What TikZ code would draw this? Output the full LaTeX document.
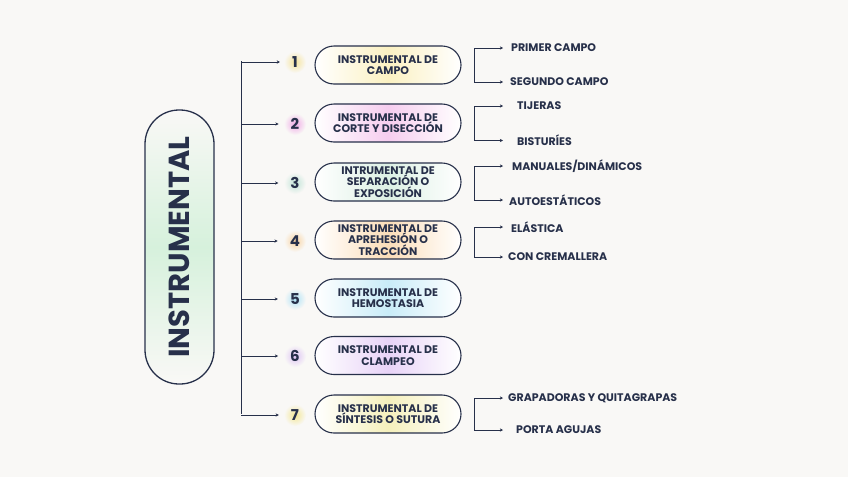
\documentclass[tikz,border=0pt]{standalone}
\usepackage{fontspec}
\setmainfont{Poppins}
\usetikzlibrary{arrows.meta}
\definecolor{bg}{HTML}{F9F8F6}
\definecolor{ink}{HTML}{27304A}
\definecolor{cA}{HTML}{FBF1C2}
\definecolor{cB}{HTML}{F6CDEF}
\definecolor{cC}{HTML}{DCF0E4}
\definecolor{cD}{HTML}{FBDDB8}
\definecolor{cE}{HTML}{C9ECF8}
\definecolor{cF}{HTML}{E8D3F7}
\definecolor{cG}{HTML}{F5F0BC}
\definecolor{cM}{HTML}{D6F1DC}
\definecolor{gA}{HTML}{F5E39A}
\definecolor{gB}{HTML}{EFA9E6}
\definecolor{gC}{HTML}{BFE3D6}
\definecolor{gD}{HTML}{F9D29E}
\definecolor{gE}{HTML}{AEE2F6}
\definecolor{gF}{HTML}{DCC2F4}
\definecolor{gG}{HTML}{F3E692}
\tikzset{
  arr/.style={draw=ink, line width=0.8pt, -{Stealth[length=3.2pt,width=3.2pt]}},
  ln/.style={draw=ink, line width=0.8pt},
  catbox/.style={draw=ink, line width=1.1pt, minimum width=146pt, minimum height=38pt,
    rounded corners=19pt, align=center, text=ink, font=\fontsize{11}{11.5}\selectfont\bfseries,
    inner sep=1pt},
  numtxt/.style={text=ink, font=\fontsize{15}{15}\selectfont\bfseries, inner sep=0pt},
  subtxt/.style={text=ink, font=\fontsize{11}{12}\selectfont\bfseries, inner sep=0pt, anchor=west},
}
\begin{document}
\begin{tikzpicture}[x=1pt,y=-1pt]
\fill[bg] (0,0) rectangle (848,477);
\useasboundingbox (0,0) rectangle (848,477);

% main box
\node[draw=ink, line width=1.3pt, rotate=90, minimum width=274pt, minimum height=69pt,
  rounded corners=34pt, left color=bg, right color=bg, middle color=cM, shading angle=0,
  text=ink, font=\fontsize{29}{29}\selectfont\bfseries, inner sep=0pt]
  (main) at (179.5,247) {INSTRUMENTAL};

% spine
\coordinate (top) at (241,61);
\coordinate (bot) at (241,414);
\draw[ln] (top) -- (bot);

% numbers with glows
\foreach \i/\y/\g in {1/62/gA,2/124/gB,3/183/gC,4/241/gD,5/299/gE,6/356/gF,7/415/gG}{
  \shade[inner color=\g, outer color=bg] (295,\y) circle (11pt);
}
\node[numtxt] (n1) at (295,62) {1};
\node[numtxt] (n2) at (295,124) {2};
\node[numtxt] (n3) at (295,183) {3};
\node[numtxt] (n4) at (295,241) {4};
\node[numtxt] (n5) at (295,299) {5};
\node[numtxt] (n6) at (295,356) {6};
\node[numtxt] (n7) at (295,415) {7};

\foreach \i in {1,...,7}{
  \draw[arr, shorten >=12pt] (n\i -| top) -- (n\i.west);
}

% category boxes
\node[catbox, left color=white, right color=white, middle color=cA] (b1) at (388,65) {INSTRUMENTAL DE\\CAMPO};
\node[catbox, left color=white, right color=white, middle color=cB] (b2) at (388,123) {INSTRUMENTAL DE\\CORTE Y DISECCIÓN};
\node[catbox, left color=white, right color=white, middle color=cC] (b3) at (388,182) {INTRUMENTAL DE\\SEPARACIÓN O\\EXPOSICIÓN};
\node[catbox, left color=white, right color=white, middle color=cD] (b4) at (388,240) {INSTRUMENTAL DE\\APREHESIÓN O\\TRACCIÓN};
\node[catbox, left color=white, right color=white, middle color=cE] (b5) at (388,298) {INSTRUMENTAL DE\\HEMOSTASIA};
\node[catbox, left color=white, right color=white, middle color=cF] (b6) at (388,355.5) {INSTRUMENTAL DE\\CLAMPEO};
\node[catbox, left color=white, right color=white, middle color=cG] (b7) at (388,414) {INSTRUMENTAL DE\\SÍNTESIS O SUTURA};

% sub items
\node[subtxt] (s1a) at (511,48) {PRIMER CAMPO};
\node[subtxt] (s1b) at (510,82) {SEGUNDO CAMPO};
\node[subtxt] (s2a) at (517,106) {TIJERAS};
\node[subtxt] (s2b) at (517,140.5) {BISTURÍES};
\node[subtxt] (s3a) at (512,166) {MANUALES/DINÁMICOS};
\node[subtxt] (s3b) at (509,200) {AUTOESTÁTICOS};
\node[subtxt] (s4a) at (511,227) {ELÁSTICA};
\node[subtxt] (s4b) at (508,257) {CON CREMALLERA};
\node[subtxt] (s7a) at (508,398) {GRAPADORAS Y QUITAGRAPAS};
\node[subtxt] (s7b) at (516,430) {PORTA AGUJAS};

\foreach \a/\b in {s1a/s1b,s2a/s2b,s3a/s3b,s4a/s4b,s7a/s7b}{
  \coordinate (kt) at (474,0);
  \draw[ln] (kt |- \a) -- (kt |- \b);
  \draw[arr] (kt |- \a) -- (503,0 |- \a);
  \draw[arr] (kt |- \b) -- (503,0 |- \b);
}
\end{tikzpicture}
\end{document}
